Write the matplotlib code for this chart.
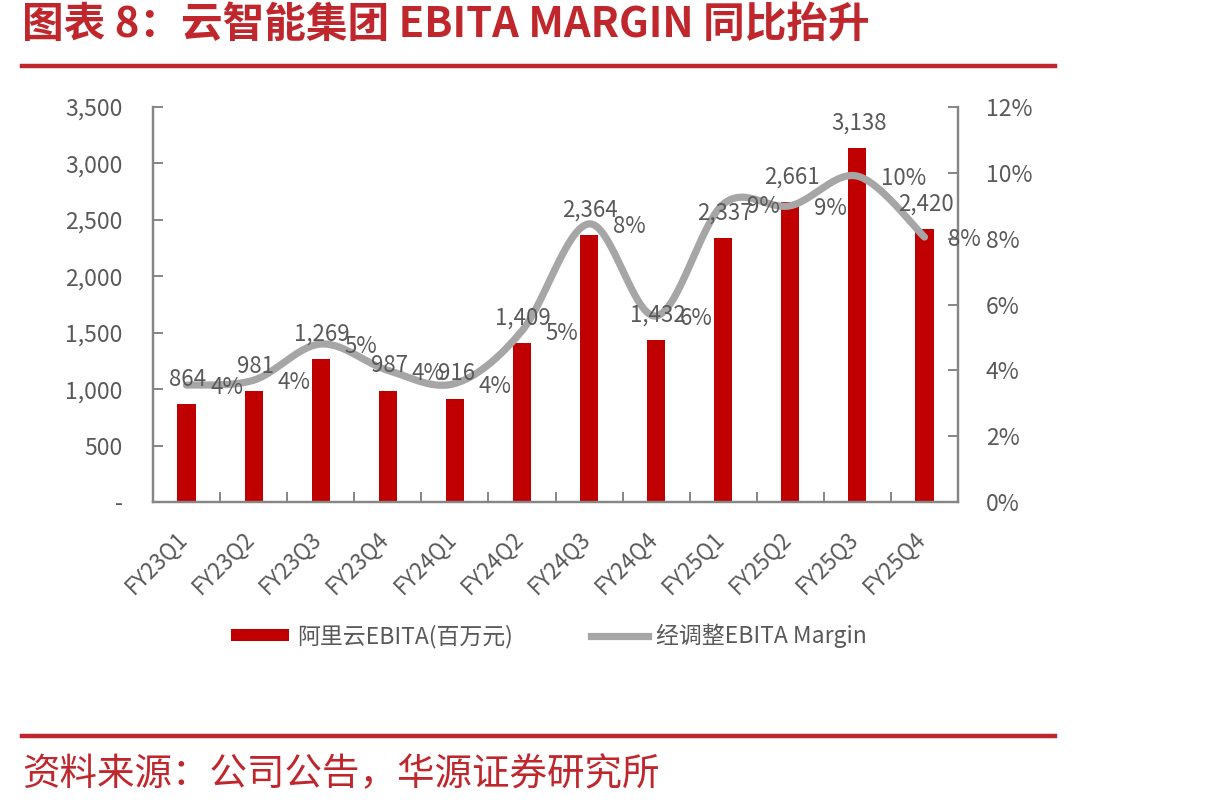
import numpy as np
import matplotlib
matplotlib.use("Agg")
import matplotlib.pyplot as plt
from matplotlib.patches import Patch
from matplotlib.lines import Line2D
from matplotlib.ticker import FixedLocator

plt.rcParams['font.family'] = ['Noto Sans CJK SC', 'DejaVu Sans']

# ---------------- data ----------------
quarters = ["FY23Q1", "FY23Q2", "FY23Q3", "FY23Q4", "FY24Q1", "FY24Q2",
            "FY24Q3", "FY24Q4", "FY25Q1", "FY25Q2", "FY25Q3", "FY25Q4"]
ebita = [864, 981, 1269, 987, 916, 1409, 2364, 1432, 2337, 2661, 3138, 2420]
margin_pct = [3.55, 3.7, 4.8, 4.0, 3.6, 5.2, 8.45, 5.65, 9.05, 9.0, 9.9, 8.05]
margin_labels = ["4%", "4%", "5%", "4%", "4%", "5%", "8%", "6%", "9%", "9%", "10%", "8%"]
left_ticks = [0, 500, 1000, 1500, 2000, 2500, 3000, 3500]
left_tick_labels = ["-", "500", "1,000", "1,500", "2,000", "2,500", "3,000", "3,500"]
right_ticks = [0, 2, 4, 6, 8, 10, 12]
right_tick_labels = ["0%", "2%", "4%", "6%", "8%", "10%", "12%"]
title = "图表 8：云智能集团 EBITA MARGIN 同比抬升"
source = "资料来源：公司公告，华源证券研究所"
bar_name = "阿里云EBITA(百万元)"
line_name = "经调整EBITA Margin"

# ---------------- style ----------------
RED = "#C00000"
HEAD_RED = "#C0272D"
GRAY_LINE = "#A6A6A6"
AX_GRAY = "#868686"
TXT = "#595959"

fig = plt.figure(figsize=(12.1, 8.07), dpi=100)
W, H = 1210, 807

# header / footer rules
for yy in (66, 736):
    fig.add_artist(Line2D([22 / W, 1055 / W], [1 - yy / H, 1 - yy / H],
                          color=HEAD_RED, lw=3.2, transform=fig.transFigure))
fig.text(22 / W, 1 - 25 / H, title, fontsize=30, fontweight='bold',
         color=HEAD_RED, ha='left', va='center')
fig.text(22 / W, 1 - 775 / H, source, fontsize=27, color=HEAD_RED,
         ha='left', va='center')

ax = fig.add_axes([153 / W, 1 - 502 / H, (958 - 153) / W, (502 - 107) / H])
ax2 = ax.twinx()

x = np.arange(len(quarters))
ax.bar(x, ebita, width=0.27, color=RED, zorder=2)
ax.set_xlim(-0.5, len(quarters) - 0.5)
ax.set_ylim(0, 3500)
ax2.set_ylim(0, 12)

# smoothed margin line (Bezier through the data points, Excel-style)
def smooth(xs, ys, n=30):
    P = np.column_stack([xs, ys]).astype(float)
    Pe = np.vstack([P[0], P, P[-1]])
    out = []
    t = np.linspace(0, 1, n)[:, None]
    for i in range(len(P) - 1):
        p0, p1, p2, p3 = Pe[i], Pe[i + 1], Pe[i + 2], Pe[i + 3]
        b1 = p1 + (p2 - p0) / 6
        b2 = p2 - (p3 - p1) / 6
        seg = ((1 - t) ** 3) * p1 + 3 * ((1 - t) ** 2) * t * b1 + \
              3 * (1 - t) * t ** 2 * b2 + t ** 3 * p2
        out.append(seg if i == 0 else seg[1:])
    S = np.vstack(out)
    return S[:, 0], S[:, 1]

sx, sy = smooth(x, margin_pct)
ax2.plot(sx, sy, color=GRAY_LINE, lw=5.2, solid_capstyle='round', zorder=3)

# spines & ticks
for a in (ax, ax2):
    a.spines['top'].set_visible(False)
    for s in ('left', 'right', 'bottom'):
        a.spines[s].set_color(AX_GRAY)
        a.spines[s].set_linewidth(1.6)

ax.yaxis.set_major_locator(FixedLocator(left_ticks))
ax.set_yticklabels(left_tick_labels)
ax.tick_params(axis='y', direction='in', length=7, width=1.4, color=AX_GRAY,
               labelsize=16.5, labelcolor=TXT, pad=22)
ax2.yaxis.set_major_locator(FixedLocator(right_ticks))
ax2.set_yticklabels(right_tick_labels)
ax2.tick_params(axis='y', direction='in', length=7, width=1.4, color=AX_GRAY,
                labelsize=16.5, labelcolor=TXT, pad=20)

ax.set_xticks(x)
ax.set_xticklabels(quarters, rotation=45, ha='right', va='top')
ax.tick_params(axis='x', length=0, labelsize=16, labelcolor=TXT, pad=18)
ax.set_xticks(np.arange(-0.5, len(quarters), 1.0), minor=True)
ax.tick_params(axis='x', which='minor', direction='in', length=7, width=1.4,
               color=AX_GRAY)
for lab in ax.get_xticklabels():
    lab.set_transform(lab.get_transform() +
                      matplotlib.transforms.ScaledTranslation(4 / 72, 0, fig.dpi_scale_trans))

# data labels (on top axis so they are above the line)
ebita_in_right = [v * 12 / 3500 for v in ebita]
for xi, v, yv in zip(x, ebita, ebita_in_right):
    ax2.annotate(f"{v:,}", (xi, yv), xytext=(1, 18), textcoords='offset points',
                 ha='center', va='center', fontsize=16, color=TXT, zorder=5)
for xi, m, lab in zip(x, margin_pct, margin_labels):
    ax2.annotate(lab, (xi, m), xytext=(17, -2), textcoords='offset points',
                 ha='left', va='center', fontsize=16, color=TXT, zorder=5)

# legend
handles = [Patch(facecolor=RED, edgecolor='none'),
           Line2D([0], [0], color=GRAY_LINE, lw=5.2)]
leg = fig.legend(handles, [bar_name, line_name], loc='center',
                 bbox_to_anchor=(549 / W, 1 - 636 / H), ncol=2, frameon=False,
                 fontsize=16.5, handlelength=2.5, handleheight=0.45,
                 handletextpad=0.35, columnspacing=3.4)
for t in leg.get_texts():
    t.set_color(TXT)

fig.savefig("out.png", dpi=100)
